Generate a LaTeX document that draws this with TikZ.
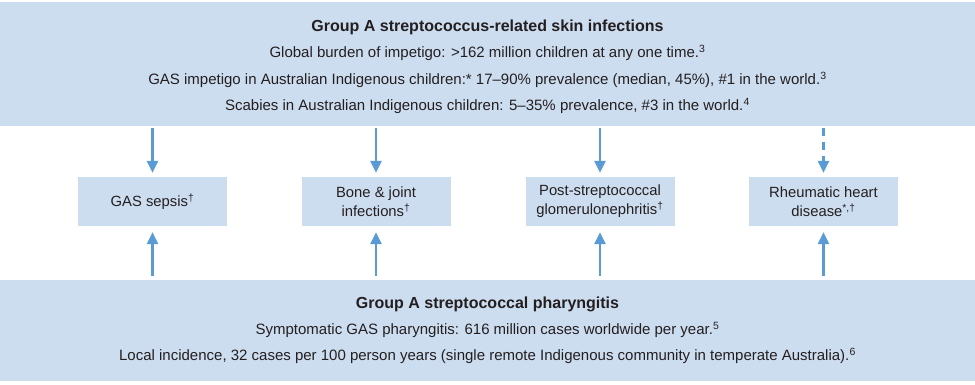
\documentclass[tikz,border=0pt]{standalone}
\usepackage{fontspec}
\setmainfont{Liberation Sans}
\usetikzlibrary{arrows.meta}
\definecolor{boxfill}{RGB}{205,221,240}
\definecolor{arrowc}{RGB}{91,155,213}
\definecolor{txt}{RGB}{35,31,32}
\begin{document}
\begin{tikzpicture}[x=1pt,y=-1pt,
  every node/.style={text=txt},
  bandbox/.style={fill=boxfill, draw=none, inner sep=0pt, minimum width=975pt},
  midbox/.style={fill=boxfill, draw=none, inner sep=0pt, minimum width=149pt, minimum height=49pt,
     align=center, font=\fontsize{14.8}{19}\selectfont},
  ttl/.style={font=\fontsize{16}{19}\selectfont\bfseries, inner sep=0pt},
  line/.style={font=\fontsize{15}{18}\selectfont, inner sep=0pt},
  arr/.style={draw=arrowc, line width=2.6pt, -{Triangle[length=12pt,width=11pt]}},
  darr/.style={arr, dash pattern=on 8pt off 6pt},
]
\useasboundingbox (0,0) rectangle (975,384);
% bands
\node[bandbox, minimum height=124pt] (top) at (487.5,64) {};
\node[bandbox, minimum height=101pt] (bot) at (487.5,330.5) {};
% top texts
\node[ttl] (t0) at (487.5,27) {Group A streptococcus-related skin infections};
\node[line] (t1) at (487.5,53) {Global burden of impetigo: \textgreater162 million children at any one time.\textsuperscript{3}};
\node[line] (t2) at (487.5,80) {GAS impetigo in Australian Indigenous children:* 17--90\% prevalence (median, 45\%), \#1 in the world.\textsuperscript{3}};
\node[line] (t3) at (487.5,106) {Scabies in Australian Indigenous children: 5--35\% prevalence, \#3 in the world.\textsuperscript{4}};
% bottom texts
\node[ttl] (b0) at (487.5,304) {Group A streptococcal pharyngitis};
\node[line] (b1) at (487.5,330) {Symptomatic GAS pharyngitis: 616 million cases worldwide per year.\textsuperscript{5}};
\node[line] (b2) at (487.5,356) {Local incidence, 32 cases per 100 person years (single remote Indigenous community in temperate Australia).\textsuperscript{6}};
% middle boxes
\node[midbox] (s1) at (152.5,201.5) {GAS sepsis\textsuperscript{†}};
\node[midbox] (s2) at (376,201.5) {Bone \& joint\\infections\textsuperscript{†}};
\node[midbox] (s3) at (600,201.5) {Post-streptococcal\\glomerulonephritis\textsuperscript{†}};
\node[midbox] (s4) at (823.5,201.5) {Rheumatic heart\\disease\textsuperscript{*,†}};
% arrows down
\draw[arr, shorten <=2pt, shorten >=4pt] (top.south -| s1.north) -- (s1.north);
\draw[arr, shorten <=2pt, shorten >=4pt] (top.south -| s2.north) -- (s2.north);
\draw[arr, shorten <=2pt, shorten >=4pt] (top.south -| s3.north) -- (s3.north);
\draw[darr, shorten <=2pt, shorten >=4pt] (top.south -| s4.north) -- (s4.north);
% arrows up
\draw[arr, shorten <=4pt, shorten >=6pt] (bot.north -| s1.south) -- (s1.south);
\draw[arr, shorten <=4pt, shorten >=6pt] (bot.north -| s2.south) -- (s2.south);
\draw[arr, shorten <=4pt, shorten >=6pt] (bot.north -| s3.south) -- (s3.south);
\draw[arr, shorten <=4pt, shorten >=6pt] (bot.north -| s4.south) -- (s4.south);
\end{tikzpicture}
\end{document}
